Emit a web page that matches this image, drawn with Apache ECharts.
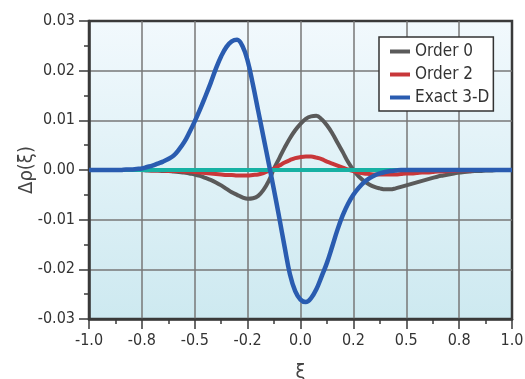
<!DOCTYPE html>
<html><head><meta charset="utf-8">
<script src="https://cdn.jsdelivr.net/npm/echarts@6/dist/echarts.min.js"></script>
<style>html,body{margin:0;padding:0;background:#fff}#c{width:525px;height:379px}</style>
</head><body><div id="c"></div>
<script>
var xTickLabels = ['-1.0','-0.8','-0.5','-0.2','0.0','0.2','0.5','0.8','1.0'];
var yTickLabels = ['-0.03','-0.02','-0.01','0.00','0.01','0.02','0.03'];
var seriesNames = ['Order 0','Order 2','Exact 3-D'];

// positions (xi) at which the curves were read, every 0.025
var xi = [-1,-0.975,-0.95,-0.925,-0.9,-0.875,-0.85,-0.825,-0.8,-0.775,
          -0.75,-0.725,-0.7,-0.675,-0.65,-0.625,-0.6,-0.575,-0.55,-0.525,
          -0.5,-0.475,-0.45,-0.425,-0.4,-0.375,-0.35,-0.325,-0.3,-0.275,
          -0.25,-0.225,-0.2,-0.175,-0.15,-0.125,-0.1,-0.075,-0.05,-0.025,
          0,0.025,0.05,0.075,0.1,0.125,0.15,0.175,0.2,0.225,
          0.25,0.275,0.3,0.325,0.35,0.375,0.4,0.425,0.45,0.475,
          0.5,0.525,0.55,0.575,0.6,0.625,0.65,0.675,0.7,0.725,
          0.75,0.775,0.8,0.825,0.85,0.875,0.9,0.925,0.95,0.975,1];

var order0 = [0,0,0,0,0,0,0,0,0,0,
              0,-0.0001,-0.0001,-0.0001,-0.0002,-0.0002,-0.0003,-0.0004,-0.0005,-0.0007,
              -0.0009,-0.0012,-0.0016,-0.002,-0.0025,-0.0031,-0.0038,-0.0045,-0.005,-0.0055,
              -0.0058,-0.0057,-0.0052,-0.004,-0.0022,0.0003,0.0024,0.0045,0.0064,0.008,
              0.0093,0.0103,0.0108,0.0109,0.0102,0.009,0.0074,0.0055,0.0036,0.0016,
              0,-0.0013,-0.0022,-0.0029,-0.0034,-0.0037,-0.0039,-0.0039,-0.0037,-0.0034,
              -0.0031,-0.0028,-0.0025,-0.0022,-0.0019,-0.0016,-0.0013,-0.0011,-0.0009,-0.0007,
              -0.0005,-0.0004,-0.0003,-0.0002,-0.0002,-0.0001,-0.0001,0,0,0,0];

var order2 = [0,0,0,0,0,0,0,0,0,0,
              0,0,-0.0001,-0.0001,-0.0001,-0.0002,-0.0002,-0.0002,-0.0003,-0.0003,
              -0.0004,-0.0005,-0.0006,-0.0007,-0.0008,-0.0009,-0.001,-0.001,-0.0011,-0.0011,
              -0.0011,-0.001,-0.0009,-0.0006,-0.0002,0.0003,0.0009,0.0015,0.002,0.0024,
              0.0026,0.0027,0.0027,0.0025,0.0022,0.0017,0.0013,0.0009,0.0005,0.0001,
              -0.0002,-0.0005,-0.0007,-0.0008,-0.0009,-0.0009,-0.0009,-0.0009,-0.0009,-0.0008,
              -0.0007,-0.0007,-0.0006,-0.0005,-0.0005,-0.0004,-0.0003,-0.0003,-0.0002,-0.0002,
              -0.0001,-0.0001,-0.0001,0,0,0,0,0,0,0,0];

var exact3d = [0,0,0,0,0,0,0,0.0001,0.0001,0.0002,
               0.0003,0.0006,0.0009,0.0013,0.0017,0.0022,0.0029,0.0041,0.0056,0.0076,
               0.0098,0.0122,0.0148,0.0175,0.0204,0.0229,0.0248,0.0259,0.0262,0.025,
               0.022,0.0172,0.0119,0.0066,0.0013,-0.0041,-0.0097,-0.0155,-0.021,-0.0244,
               -0.0261,-0.0266,-0.0258,-0.024,-0.0214,-0.0187,-0.0154,-0.012,-0.0091,-0.0068,
               -0.005,-0.0036,-0.0025,-0.0017,-0.0011,-0.0007,-0.0004,-0.0002,-0.0001,0,
               0,0,0,0,0,0,0,0,0,0,
               0,0,0,0,0,0,0,0,0,0,0];

var baselineX = [-1, 1];
var baselineY = [0, 0];

function pairs(xs, ys){ return xs.map(function(x,i){ return [x, ys[i]]; }); }

var FONT = '"Liberation Sans Narrow","DejaVu Sans Condensed",sans-serif';
var chart = echarts.init(document.getElementById('c'), null, {renderer:'canvas'});
chart.setOption({
  animation: false,
  grid: {
    left: 89, right: 13, top: 21, bottom: 60, show: true,
    containLabel: false, outerBoundsMode: 'none',
    borderColor: '#3a3a3a', borderWidth: 2.5,
    backgroundColor: {type:'linear', x:0, y:0, x2:0, y2:1,
      colorStops:[{offset:0,color:'#f2f9fd'},{offset:1,color:'#cde9f0'}]}
  },
  legend: {
    data: seriesNames, orient: 'vertical', left: 379, top: 37,
    backgroundColor: '#ffffff', borderColor: '#333', borderWidth: 1.5,
    padding: [6, 4, 5, 11], itemGap: 6, itemWidth: 20, itemHeight: 4,
    icon: 'rect',
    textStyle: {fontFamily: FONT, fontSize: 17, color: '#333'}
  },
  xAxis: {
    type: 'value', min: -1, max: 1, interval: 0.25,
    name: 'ξ', nameLocation: 'middle', nameGap: 44, nameMoveOverlap: false,
    nameTextStyle: {fontFamily: FONT, fontSize: 20, color: '#444'},
    axisLine: {show: true, onZero: false, lineStyle: {color: '#3a3a3a', width: 2.5}},
    axisTick: {show: true, length: 10, lineStyle: {color: '#3a3a3a', width: 1.5}},
    minorTick: {show: true, splitNumber: 2, length: 5, lineStyle: {color: '#3a3a3a', width: 1.5}},
    axisLabel: {margin: 14, fontFamily: FONT, fontSize: 16, color: '#333',
      formatter: function(v){ return xTickLabels[Math.round((v + 1) / 0.25)]; }},
    splitLine: {show: true, showMinLine: false, showMaxLine: false, lineStyle: {color: '#777', width: 1.5}}
  },
  yAxis: {
    type: 'value', min: -0.03, max: 0.03, interval: 0.01,
    name: 'Δρ(ξ)', nameLocation: 'middle', nameGap: 52, nameRotate: 90, nameMoveOverlap: false,
    nameTextStyle: {fontFamily: FONT, fontSize: 20, color: '#444'},
    axisLine: {show: true, onZero: false, lineStyle: {color: '#3a3a3a', width: 2.5}},
    axisTick: {show: true, length: 10, lineStyle: {color: '#3a3a3a', width: 1.5}},
    minorTick: {show: true, splitNumber: 2, length: 5, lineStyle: {color: '#3a3a3a', width: 1.5}},
    axisLabel: {margin: 14, fontFamily: FONT, fontSize: 16, color: '#333',
      formatter: function(v){ return yTickLabels[Math.round((v + 0.03) / 0.01)]; }},
    splitLine: {show: true, showMinLine: false, showMaxLine: false, lineStyle: {color: '#777', width: 1.5}}
  },
  series: [
    {name: 'Order 0', type: 'line', smooth: 0.4, showSymbol: false, data: pairs(xi, order0),
      color: '#5a5a5a', lineStyle: {color: '#5a5a5a', width: 4}, z: 2},
    {name: 'Order 2', type: 'line', smooth: 0.4, showSymbol: false, data: pairs(xi, order2),
      color: '#c8373a', lineStyle: {color: '#c8373a', width: 4}, z: 3},
    {name: 'baseline', type: 'line', showSymbol: false, data: pairs(baselineX, baselineY),
      lineStyle: {color: '#17b1a3', width: 4}, z: 4},
    {name: 'Exact 3-D', type: 'line', smooth: 0.4, showSymbol: false, data: pairs(xi, exact3d),
      color: '#2a5cb0', lineStyle: {color: '#2a5cb0', width: 4.5}, z: 5}
  ]
});
</script></body></html>
